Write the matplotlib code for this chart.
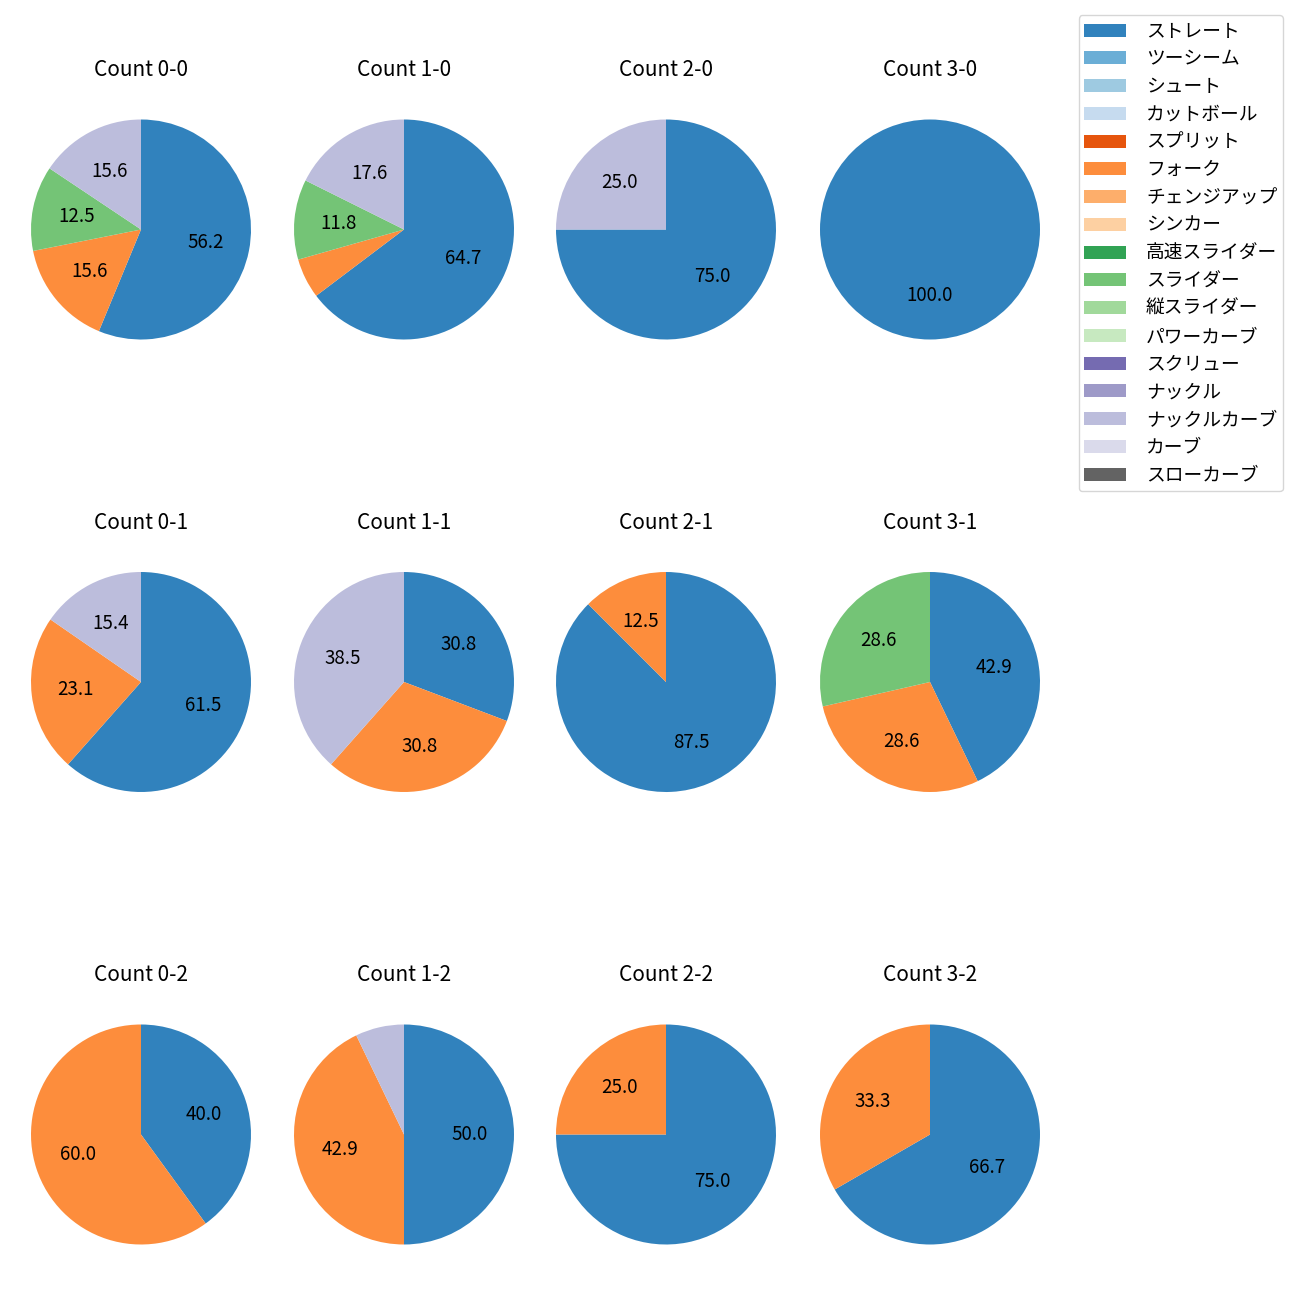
import numpy as np
import matplotlib
matplotlib.use('Agg')
from matplotlib import pyplot as plt
from matplotlib.patches import Patch

plt.rcParams['font.family'] = ['Noto Sans CJK JP', 'DejaVu Sans']
plt.rcParams['font.size'] = 13

pitch_types = ['ストレート', 'ツーシーム', 'シュート', 'カットボール', 'スプリット', 'フォーク',
               'チェンジアップ', 'シンカー', '高速スライダー', 'スライダー', '縦スライダー',
               'パワーカーブ', 'スクリュー', 'ナックル', 'ナックルカーブ', 'カーブ', 'スローカーブ']

count_titles = [['Count 0-0', 'Count 1-0', 'Count 2-0', 'Count 3-0'],
                ['Count 0-1', 'Count 1-1', 'Count 2-1', 'Count 3-1'],
                ['Count 0-2', 'Count 1-2', 'Count 2-2', 'Count 3-2']]

# pitch counts per ball-strike count: (pitch type, number)
count_0_0 = {'ストレート': 18, 'フォーク': 5, 'スライダー': 4, 'ナックルカーブ': 5}
count_1_0 = {'ストレート': 11, 'フォーク': 1, 'スライダー': 2, 'ナックルカーブ': 3}
count_2_0 = {'ストレート': 3, 'ナックルカーブ': 1}
count_3_0 = {'ストレート': 1}
count_0_1 = {'ストレート': 8, 'フォーク': 3, 'ナックルカーブ': 2}
count_1_1 = {'ストレート': 4, 'フォーク': 4, 'ナックルカーブ': 5}
count_2_1 = {'ストレート': 7, 'フォーク': 1}
count_3_1 = {'ストレート': 3, 'フォーク': 2, 'スライダー': 2}
count_0_2 = {'ストレート': 2, 'フォーク': 3}
count_1_2 = {'ストレート': 7, 'フォーク': 6, 'ナックルカーブ': 1}
count_2_2 = {'ストレート': 3, 'フォーク': 1}
count_3_2 = {'ストレート': 2, 'フォーク': 1}

all_counts = [[count_0_0, count_1_0, count_2_0, count_3_0],
              [count_0_1, count_1_1, count_2_1, count_3_1],
              [count_0_2, count_1_2, count_2_2, count_3_2]]

cmap = plt.get_cmap('tab20c')
colors = {p: cmap(i) for i, p in enumerate(pitch_types)}

W, H = 1300, 1300
fig = plt.figure(figsize=(13, 13), dpi=100)

col_x = [141, 404, 666, 930]
row_y = [229.5, 682, 1134.5]
size = 275  # axes box in px, pie radius = size / 2.5


def pct_label(pct):
    # small slices get no label
    if pct < 10:
        return ''
    return '%.1f' % pct


for r in range(3):
    for c in range(4):
        cx, cy = col_x[c], row_y[r]
        ax = fig.add_axes([(cx - size / 2) / W, 1 - (cy + size / 2) / H, size / W, size / H])
        d = all_counts[r][c]
        names = [p for p in pitch_types if p in d]
        vals = [d[p] for p in names]
        ax.pie(vals, colors=[colors[p] for p in names], startangle=90, counterclock=False,
               autopct=pct_label, textprops={'fontsize': 13.5})
        ax.set_title(count_titles[r][c], fontsize=15, pad=11.5)

handles = [Patch(facecolor=colors[p], label=p) for p in pitch_types]
fig.legend(handles=handles, loc='upper right', bbox_to_anchor=(1283 / W, 1 - 15 / H),
           borderaxespad=0, fontsize=13.5, labelspacing=0.36, handlelength=2.2,
           handletextpad=1.1, borderpad=0.3)

fig.savefig('out.png', dpi=100)
